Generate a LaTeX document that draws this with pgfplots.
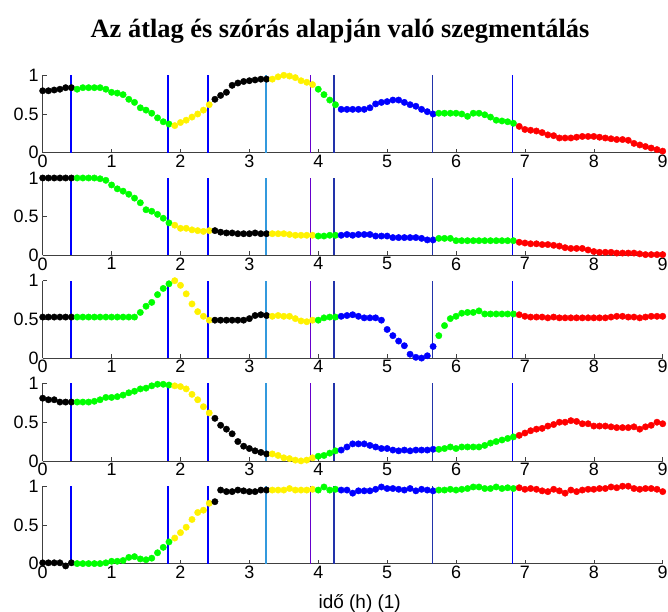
\documentclass[border=0pt]{standalone}
\usepackage{fontspec}
\setmainfont{Liberation Sans}
\newfontfamily\titlefont{Liberation Serif}
\usepackage{pgfplots}
\usepackage{pgfplotstable}
\pgfplotsset{compat=1.18}
\definecolor{lb}{HTML}{3399DD}
\definecolor{pu}{HTML}{6600CC}
\definecolor{db}{HTML}{2233AA}

% x in hours (5 min samples), c = segment colour, y1..y5 = the five signals
\pgfplotstableread{
x c y1 y2 y3 y4 y5
0 k .80 1.00 .53 .81 .01
0.083 k .80 1.00 .53 .79 .01
0.167 k .81 1.00 .53 .79 .01
0.25 k .82 1.00 .53 .76 .01
0.333 k .84 1.00 .53 .76 -.03
0.417 k .84 1.00 .53 .76 .01
0.5 g .82 1.00 .53 .76 .00
0.583 g .84 1.00 .53 .76 .00
0.667 g .84 1.00 .53 .76 .00
0.75 g .84 1.00 .53 .77 .00
0.833 g .84 .99 .53 .79 .00
0.917 g .82 .97 .53 .82 .01
1 g .78 .91 .53 .82 .03
1.083 g .77 .86 .53 .83 .03
1.167 g .75 .83 .53 .85 .04
1.25 g .69 .79 .53 .88 .08
1.333 g .65 .74 .53 .90 .09
1.417 g .58 .68 .59 .93 .06
1.5 g .55 .59 .67 .94 .05
1.583 g .51 .57 .72 .97 .07
1.667 g .45 .53 .82 .99 .14
1.75 g .40 .48 .90 .99 .21
1.833 g .37 .42 .96 .98 .28
1.917 y .35 .39 1.00 .97 .33
2 y .39 .35 .94 .96 .40
2.083 y .42 .35 .83 .93 .47
2.167 y .46 .33 .70 .86 .57
2.25 y .50 .32 .60 .79 .66
2.333 y .55 .31 .54 .70 .69
2.417 y .62 .32 .49 .62 .78
2.5 k .69 .32 .49 .55 .80
2.583 k .74 .30 .49 .46 .95
2.667 k .78 .29 .49 .41 .93
2.75 k .87 .29 .49 .35 .93
2.833 k .90 .28 .49 .25 .95
2.917 k .92 .28 .49 .19 .94
3 k .93 .28 .51 .16 .93
3.083 k .94 .29 .55 .13 .93
3.167 k .95 .28 .56 .11 .95
3.25 k .95 .28 .55 .09 .95
3.333 y .95 .28 .54 .09 .95
3.417 y .98 .28 .55 .07 .95
3.5 y 1.00 .28 .54 .04 .95
3.583 y .99 .27 .54 .03 .97
3.667 y .97 .26 .51 .01 .95
3.75 y .93 .26 .48 .00 .95
3.833 y .91 .26 .47 .01 .95
3.917 y .88 .26 .49 .04 .96
4 g .82 .25 .49 .06 .95
4.083 g .75 .25 .52 .07 .99
4.167 g .68 .26 .53 .10 .95
4.25 g .62 .26 .53 .13 .96
4.333 b .56 .26 .54 .14 .95
4.417 b .56 .27 .55 .18 .95
4.5 b .56 .26 .56 .22 .91
4.583 b .56 .27 .54 .22 .94
4.667 b .56 .27 .52 .22 .94
4.75 b .58 .27 .52 .20 .94
4.833 b .63 .25 .52 .18 .96
4.917 b .65 .25 .49 .16 .99
5 b .66 .25 .37 .16 .97
5.083 b .68 .23 .29 .14 .97
5.167 b .68 .23 .22 .13 .96
5.25 b .65 .23 .16 .14 .95
5.333 b .62 .23 .05 .13 .97
5.417 b .60 .23 .01 .14 .94
5.5 b .56 .22 .00 .14 .96
5.583 b .53 .20 .03 .14 .95
5.667 b .50 .20 .15 .15 .94
5.75 g .51 .22 .29 .15 .95
5.833 g .51 .22 .42 .16 .95
5.917 g .51 .22 .51 .18 .96
6 g .51 .19 .54 .16 .95
6.083 g .50 .19 .58 .18 .96
6.167 g .47 .19 .59 .18 .97
6.25 g .51 .19 .59 .18 .99
6.333 g .51 .19 .61 .18 .99
6.417 g .49 .19 .57 .20 .97
6.5 g .46 .19 .57 .23 .97
6.583 g .42 .19 .57 .25 .99
6.667 g .41 .19 .57 .27 .97
6.75 g .40 .19 .57 .29 .98
6.833 g .38 .19 .57 .31 .97
6.917 r .34 .17 .56 .33 .98
7 r .30 .16 .54 .36 .96
7.083 r .29 .15 .53 .39 .97
7.167 r .28 .15 .53 .41 .96
7.25 r .26 .14 .53 .42 .94
7.333 r .23 .14 .52 .45 .93
7.417 r .22 .13 .53 .47 .96
7.5 r .19 .12 .52 .50 .94
7.583 r .19 .10 .52 .50 .91
7.667 r .19 .09 .52 .52 .95
7.75 r .20 .09 .52 .51 .93
7.833 r .21 .09 .52 .48 .95
7.917 r .21 .07 .52 .48 .96
8 r .21 .05 .52 .45 .96
8.083 r .20 .04 .52 .45 .97
8.167 r .19 .04 .52 .45 .97
8.25 r .18 .04 .53 .44 .99
8.333 r .17 .03 .54 .43 .98
8.417 r .17 .03 .54 .43 1.00
8.5 r .16 .03 .53 .43 1.00
8.583 r .12 .03 .53 .44 .97
8.667 r .10 .02 .52 .41 .96
8.75 r .08 .01 .53 .44 .97
8.833 r .06 .01 .54 .46 .97
8.917 r .04 .01 .54 .50 .96
9 r .02 .01 .54 .48 .93
}\segdata

\pgfplotsset{
  panel/.style={scale only axis,width=620bp,height=77.4bp,
    xmin=0,xmax=9,ymin=0,ymax=1,clip=false,
    axis x line*=bottom,axis y line*=left,
    xtick={0,1,...,9},ytick={0,0.5,1},yticklabels={0,0.5,1},
    tick align=inside,major tick length=4bp,
    axis line style={black!75,line width=0.6bp},
    tick style={black!75,line width=0.6bp},
    tick label style={font=\fontsize{18}{20}\selectfont},
    xticklabel style={inner sep=2bp},
    yticklabel style={inner sep=4bp},
    /pgf/number format/assume math mode=true,
    label style={font=\fontsize{19}{21}\selectfont}},
  dots/.style={scatter,only marks,mark=*,mark size=3.2bp,
    scatter src=explicit symbolic,
    scatter/classes={k={black},g={green},y={yellow},b={blue},r={red}}}
}
\newcommand\seglines{%
  \addplot[blue,line width=1.3bp] coordinates {(0.41,0) (0.41,1)};
  \addplot[blue,line width=1.3bp] coordinates {(1.82,0) (1.82,1)};
  \addplot[blue,line width=1.3bp] coordinates {(2.40,0) (2.40,1)};
  \addplot[lb,line width=1.3bp] coordinates {(3.24,0) (3.24,1)};
  \addplot[pu,line width=1.3bp] coordinates {(3.89,0) (3.89,1)};
  \addplot[db,line width=1.3bp] coordinates {(4.23,0) (4.23,1)};
  \addplot[db,line width=1.3bp] coordinates {(5.66,0) (5.66,1)};
  \addplot[blue,line width=1.3bp] coordinates {(6.82,0) (6.82,1)};
}

\begin{document}
\begin{tikzpicture}
\useasboundingbox (0,0) rectangle (668bp,612bp);
\node[anchor=base,font=\titlefont\bfseries\fontsize{26.5}{30}\selectfont] at (340bp,574bp)
  {Az átlag és szórás alapján való szegmentálás};

\begin{axis}[panel,at={(42.7bp,459.3bp)},anchor=south west]
\addplot[dots] table[x=x,y=y1,meta=c]{\segdata};
\seglines
\end{axis}

\begin{axis}[panel,at={(42.7bp,356.6bp)},anchor=south west]
\addplot[dots] table[x=x,y=y2,meta=c]{\segdata};
\seglines
\end{axis}

\begin{axis}[panel,at={(42.7bp,253.9bp)},anchor=south west]
\addplot[dots] table[x=x,y=y3,meta=c]{\segdata};
\seglines
\end{axis}

\begin{axis}[panel,at={(42.7bp,151.1bp)},anchor=south west]
\addplot[dots] table[x=x,y=y4,meta=c]{\segdata};
\seglines
\end{axis}

\begin{axis}[panel,at={(42.7bp,48.4bp)},anchor=south west,
  xlabel={idő (h) (1)},xlabel style={yshift=-11bp,xshift=7bp}]
\addplot[dots] table[x=x,y=y5,meta=c]{\segdata};
\seglines
\end{axis}
\end{tikzpicture}
\end{document}
